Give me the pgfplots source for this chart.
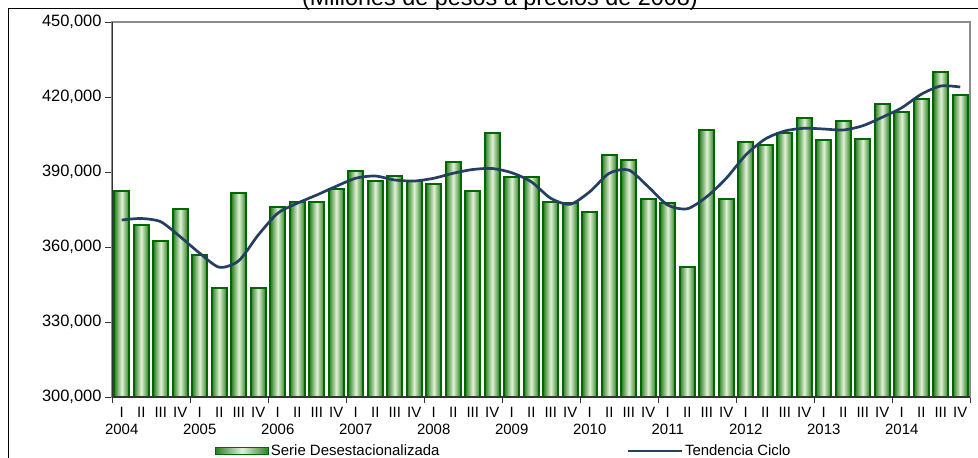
\documentclass[border=0pt]{standalone}
\usepackage{fontspec}
\setmainfont{Liberation Sans}
\usepackage{pgfplots}
\usepackage{pgfplotstable}
\pgfplotsset{compat=1.18}
\definecolor{bargreen}{HTML}{006600}
\definecolor{barside}{HTML}{2A8022}
\definecolor{barmid}{HTML}{E2F1D6}
\definecolor{trendcol}{HTML}{243F60}
\definecolor{framegray}{HTML}{8C8C8C}

\pgfplotstableread{
x bar trend
0 382500 370800
1 368700 371400
2 362500 370100
3 375300 364100
4 356800 357500
5 343600 351900
6 381500 354500
7 343600 364800
8 376000 373500
9 377900 377500
10 378100 380800
11 383300 384300
12 390500 387500
13 386400 388400
14 388300 386800
15 386300 386400
16 385100 387500
17 394100 389500
18 382500 391000
19 405600 391400
20 388100 389700
21 388100 386100
22 378000 379500
23 377700 377100
24 374100 382100
25 396800 389500
26 394800 390800
27 379300 384100
28 377700 376800
29 352000 375300
30 406700 380100
31 379300 387500
32 402000 396800
33 400800 403200
34 405500 406400
35 411600 407500
36 402700 407200
37 410500 406800
38 403300 408500
39 417100 411900
40 414000 415700
41 419200 421100
42 430100 424400
43 420900 424000
}\datatable

\begin{document}
\begin{tikzpicture}
\useasboundingbox (0,0) rectangle (978bp,-458bp);
\draw[black, line width=1bp] (8bp,-470bp) -- (8bp,-8bp) -- (990bp,-8bp);
\node[anchor=base, font=\fontsize{23.5}{26}\selectfont, inner sep=0pt] at (500bp,-5.5bp) {(Millones de pesos a precios de 2008)};
\begin{axis}[
  at={(112bp,-397bp)}, anchor=south west,
  scale only axis, width=858bp, height=375bp,
  xmin=-0.5, xmax=43.5, ymin=300000, ymax=450000,
  axis line style={draw=framegray, line width=1.5bp},
  tick align=outside,
  xtick pos=bottom, ytick pos=left,
  ytick={300000,330000,...,450000},
  scaled y ticks=false,
  yticklabel={\pgfmathprintnumber[fixed, precision=0, 1000 sep={,}, assume math mode=true]{\tick}},
  major tick length=7bp,
  minor tick length=6bp,
  major y tick style={draw=black!80, line width=1bp},
  major x tick style={draw=none},
  minor x tick style={draw=black!80, line width=1bp},
  minor xtick={-0.5,3.5,...,43.5},
  xtick={0,...,43},
  xticklabels={{I\\2004},II,III,IV,{I\\2005},II,III,IV,{I\\2006},II,III,IV,{I\\2007},II,III,IV,{I\\2008},II,III,IV,{I\\2009},II,III,IV,{I\\2010},II,III,IV,{I\\2011},II,III,IV,{I\\2012},II,III,IV,{I\\2013},II,III,IV,{I\\2014},II,III,IV},
  xticklabel style={align=center, font=\fontsize{15}{16.5}\selectfont},
  yticklabel style={font=\fontsize{16.5}{18}\selectfont},
  legend columns=2,
  legend style={draw=none, fill=none, at={(0.12,-0.144)}, anchor=west,
    font=\fontsize{15}{18}\selectfont, inner sep=0pt,
    /tikz/every even column/.append style={column sep=185bp}},
]
\pgfplotsinvokeforeach{0,...,43}{
  \addplot[ybar, bar width=0.76, draw=bargreen, line width=1.7bp,
    left color=barside, right color=barside, middle color=barmid, forget plot,
    restrict x to domain=#1:#1]
    table[x=x, y=bar] {\datatable};
}
\addlegendimage{legend image code/.code={\draw[draw=bargreen, line width=0.8bp, left color=barside, right color=barside, middle color=barmid] (0bp,-3.5bp) rectangle (53bp,3.5bp);}}
\addlegendentry{Serie Desestacionalizada}
\addplot[trendcol, line width=2.7bp, smooth, tension=0.45, no marks,
  legend image code/.code={\draw[trendcol, line width=2.5bp] (0bp,0bp) -- (54bp,0bp);}]
  table[x=x, y=trend] {\datatable};
\addlegendentry{Tendencia Ciclo}
\draw[black!80, line width=1.2bp] (rel axis cs:0,1) -- (rel axis cs:0,0) -- (rel axis cs:1,0);
\end{axis}
\end{tikzpicture}
\end{document}
